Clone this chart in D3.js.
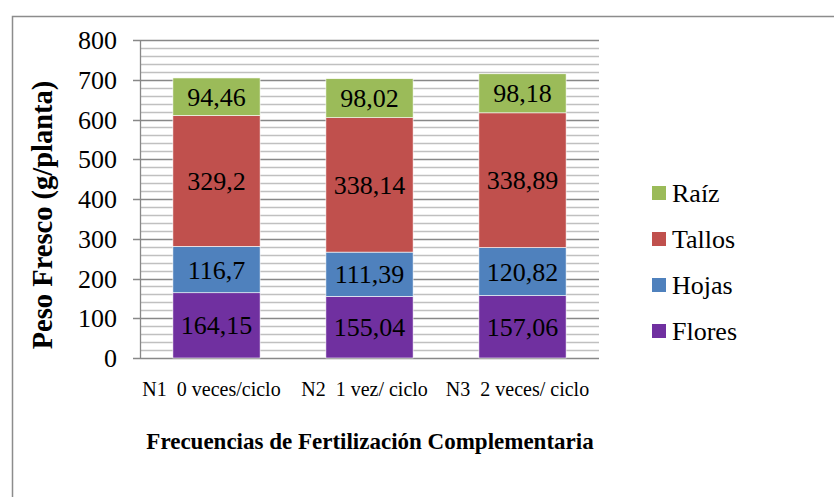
<!DOCTYPE html>
<html><head><meta charset="utf-8">
<script src="https://cdn.jsdelivr.net/npm/d3@7/dist/d3.min.js"></script>
<style>
html,body{margin:0;padding:0;background:#fff;}
svg{display:block;}
text{font-family:"Liberation Serif","Times New Roman",serif;}
</style></head>
<body>
<svg id="c" width="834" height="497"></svg>
<script>
const categories = ["N1  0 veces/ciclo", "N2  1 vez/ ciclo", "N3  2 veces/ ciclo"];
const seriesNames = ["Flores", "Hojas", "Tallos", "Raíz"];
const flores = [164.15, 155.04, 157.06];
const hojas = [116.7, 111.39, 120.82];
const tallos = [329.2, 338.14, 338.89];
const raiz = [94.46, 98.02, 98.18];
const yTicks = [0, 100, 200, 300, 400, 500, 600, 700, 800];
const colors = ["#7030A0", "#4F81BD", "#C0504D", "#9BBB59"];

(function () {
const FF = "Liberation Serif, Times New Roman, serif";
const svg = d3.select("#c");
// outer frame
svg.append("rect").attr("x", 12.5).attr("y", 16.5).attr("width", 900).attr("height", 600)
  .attr("fill", "none").attr("stroke", "#8c8c8c").attr("stroke-width", 1.5);

const pL = 140, pR = 599, pT = 40, pB = 358;
const x = d3.scaleBand().domain(categories).range([pL, pR]).paddingInner(0.43).paddingOuter(0.215);
const y = d3.scaleLinear().domain([0, 800]).range([pB, pT]);

// minor gridlines
const minor = d3.range(0, 801, 20).filter(v => v % 100 !== 0);
svg.append("g").selectAll("line").data(minor).join("line")
  .attr("x1", pL).attr("x2", pR)
  .attr("y1", d => Math.round(y(d)) + 0.5).attr("y2", d => Math.round(y(d)) + 0.5)
  .attr("stroke", "#c0c0c0").attr("stroke-width", 1.3);
// major gridlines
svg.append("g").selectAll("line").data(yTicks).join("line")
  .attr("x1", pL - 7).attr("x2", pR)
  .attr("y1", d => Math.round(y(d)) + 0.5).attr("y2", d => Math.round(y(d)) + 0.5)
  .attr("stroke", "#888888").attr("stroke-width", 1.3);
// y axis line
svg.append("line").attr("x1", pL + 0.5).attr("x2", pL + 0.5).attr("y1", pT).attr("y2", pB)
  .attr("stroke", "#888888").attr("stroke-width", 1.3);

// y tick labels
svg.append("g").selectAll("text").data(yTicks).join("text")
  .attr("x", 117).attr("y", d => y(d)).attr("dy", "0.35em")
  .attr("text-anchor", "end").attr("font-size", 26).attr("font-family", FF).attr("fill", "#000")
  .text(d => d);

// stacked data
const table = categories.map((c, i) => ({cat: c, Flores: flores[i], Hojas: hojas[i], Tallos: tallos[i], "Raíz": raiz[i]}));
const stack = d3.stack().keys(seriesNames)(table);
const fmt = v => String(v).replace(".", ",");

const layers = svg.append("g").selectAll("g").data(stack).join("g")
  .attr("fill", (d, i) => colors[i]);
layers.selectAll("rect").data(d => d).join("rect")
  .attr("x", d => x(d.data.cat)).attr("width", x.bandwidth())
  .attr("y", d => y(d[1])).attr("height", d => y(d[0]) - y(d[1]))
  .attr("stroke", "#fff").attr("stroke-width", 0.6);

const labels = svg.append("g");
stack.forEach(layer => {
  layer.forEach(d => {
    labels.append("text")
      .attr("x", x(d.data.cat) + x.bandwidth() / 2)
      .attr("y", (y(d[0]) + y(d[1])) / 2).attr("dy", "0.35em")
      .attr("text-anchor", "middle").attr("font-size", 26).attr("font-family", FF).attr("fill", "#000")
      .text(fmt(d.data[layer.key]));
  });
});

// x tick labels
svg.append("g").selectAll("text").data(categories).join("text")
  .attr("x", d => x(d) + x.bandwidth() / 2 - 5).attr("y", 396)
  .attr("text-anchor", "middle").attr("font-size", 20).attr("font-family", FF).attr("fill", "#000")
  .style("white-space", "pre").attr("xml:space", "preserve")
  .text(d => d);

// x title
svg.append("text").attr("x", 370).attr("y", 449).attr("text-anchor", "middle")
  .attr("font-size", 23).attr("font-family", FF).attr("font-weight", "bold")
  .text("Frecuencias de Fertilización Complementaria");

// y title
svg.append("text").attr("transform", "translate(52,215) rotate(-90)").attr("text-anchor", "middle")
  .attr("font-size", 28.5).attr("font-family", FF).attr("font-weight", "bold")
  .text("Peso Fresco (g/planta)");

// legend
const legendOrder = [3, 2, 1, 0];
const lg = svg.append("g");
legendOrder.forEach((si, k) => {
  const cy = 193 + k * 46;
  lg.append("rect").attr("x", 652).attr("y", cy - 7).attr("width", 14).attr("height", 14).attr("fill", colors[si]);
  lg.append("text").attr("x", 672).attr("y", cy).attr("dy", "0.35em").attr("font-size", 26)
    .attr("font-family", FF).text(seriesNames[si]);
});
})();
</script>
</body></html>
